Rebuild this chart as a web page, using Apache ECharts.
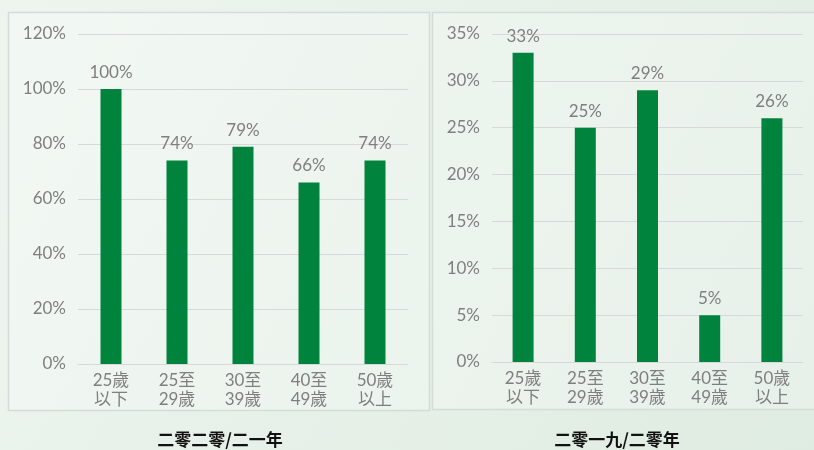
<!DOCTYPE html>
<html>
<head>
<meta charset="utf-8">
<script src="https://cdn.jsdelivr.net/npm/echarts@6/dist/echarts.min.js"></script>
<style>
  html, body { margin: 0; padding: 0; }
  #chart { width: 814px; height: 450px; }
</style>
</head>
<body>
<div id="chart"></div>
<script>
const categories = ['25歲\n以下', '25至\n29歲', '30至\n39歲', '40至\n49歲', '50歲\n以上']
const values2021 = [100, 74, 79, 66, 74]
const values2020 = [33, 25, 29, 5, 26]
const titles = ['二零二零/二一年', '二零一九/二零年']

const labelFont = 'Lato, "Noto Sans CJK TC", sans-serif'
const grey = '#7f7f7f'
const green = '#00843d'

const chart = echarts.init(document.getElementById('chart'))

const makeX = (grid) => ({
  type: 'category',
  gridIndex: grid,
  data: categories,
  axisLine: { lineStyle: { color: '#d6d8dc' } },
  axisTick: { show: false },
  axisLabel: { color: grey, fontSize: 17, lineHeight: 19, fontFamily: labelFont, margin: 7 },
})

const makeY = (grid, max, interval) => ({
  type: 'value',
  gridIndex: grid,
  min: 0,
  max: max,
  interval: interval,
  axisLabel: { formatter: '{value}%', color: grey, fontSize: 17, fontFamily: labelFont, margin: 12 },
  splitLine: { lineStyle: { color: '#d6d8dc' } },
})

const makeBar = (idx, data) => ({
  type: 'bar',
  xAxisIndex: idx,
  yAxisIndex: idx,
  data: data,
  barWidth: 21,
  itemStyle: { color: green },
  label: {
    show: true,
    position: 'top',
    formatter: '{c}%',
    color: grey,
    fontSize: 17,
    fontFamily: labelFont,
    distance: 8,
  },
})

const option = {
  backgroundColor: new echarts.graphic.LinearGradient(0, 0, 1, 1, [
    { offset: 0, color: '#eef5ef' },
    { offset: 1, color: '#dfece1' },
  ]),
  graphic: [
    { type: 'rect', shape: { x: 8.5, y: 12.5, width: 421, height: 398 },
      style: { fill: 'rgba(255,255,255,0.25)', stroke: '#d5dbd6', lineWidth: 1.5 } },
    { type: 'rect', shape: { x: 432.5, y: 12.5, width: 390, height: 397 },
      style: { fill: 'rgba(255,255,255,0.25)', stroke: '#d5dbd6', lineWidth: 1.5 } },
  ],
  title: [
    { text: titles[0], left: 215, top: 426, textAlign: 'center',
      textStyle: { fontSize: 17, fontWeight: 'bold', color: '#111', fontFamily: '"Noto Sans CJK TC", sans-serif' } },
    { text: titles[1], left: 612, top: 426, textAlign: 'center',
      textStyle: { fontSize: 17, fontWeight: 'bold', color: '#111', fontFamily: '"Noto Sans CJK TC", sans-serif' } },
  ],
  grid: [
    { left: 78, right: 406, top: 34, bottom: 86 },
    { left: 492, right: 11, top: 34, bottom: 88 },
  ],
  xAxis: [makeX(0), makeX(1)],
  yAxis: [makeY(0, 120, 20), makeY(1, 35, 5)],
  series: [makeBar(0, values2021), makeBar(1, values2020)],
}

chart.setOption(option)
</script>
</body>
</html>
